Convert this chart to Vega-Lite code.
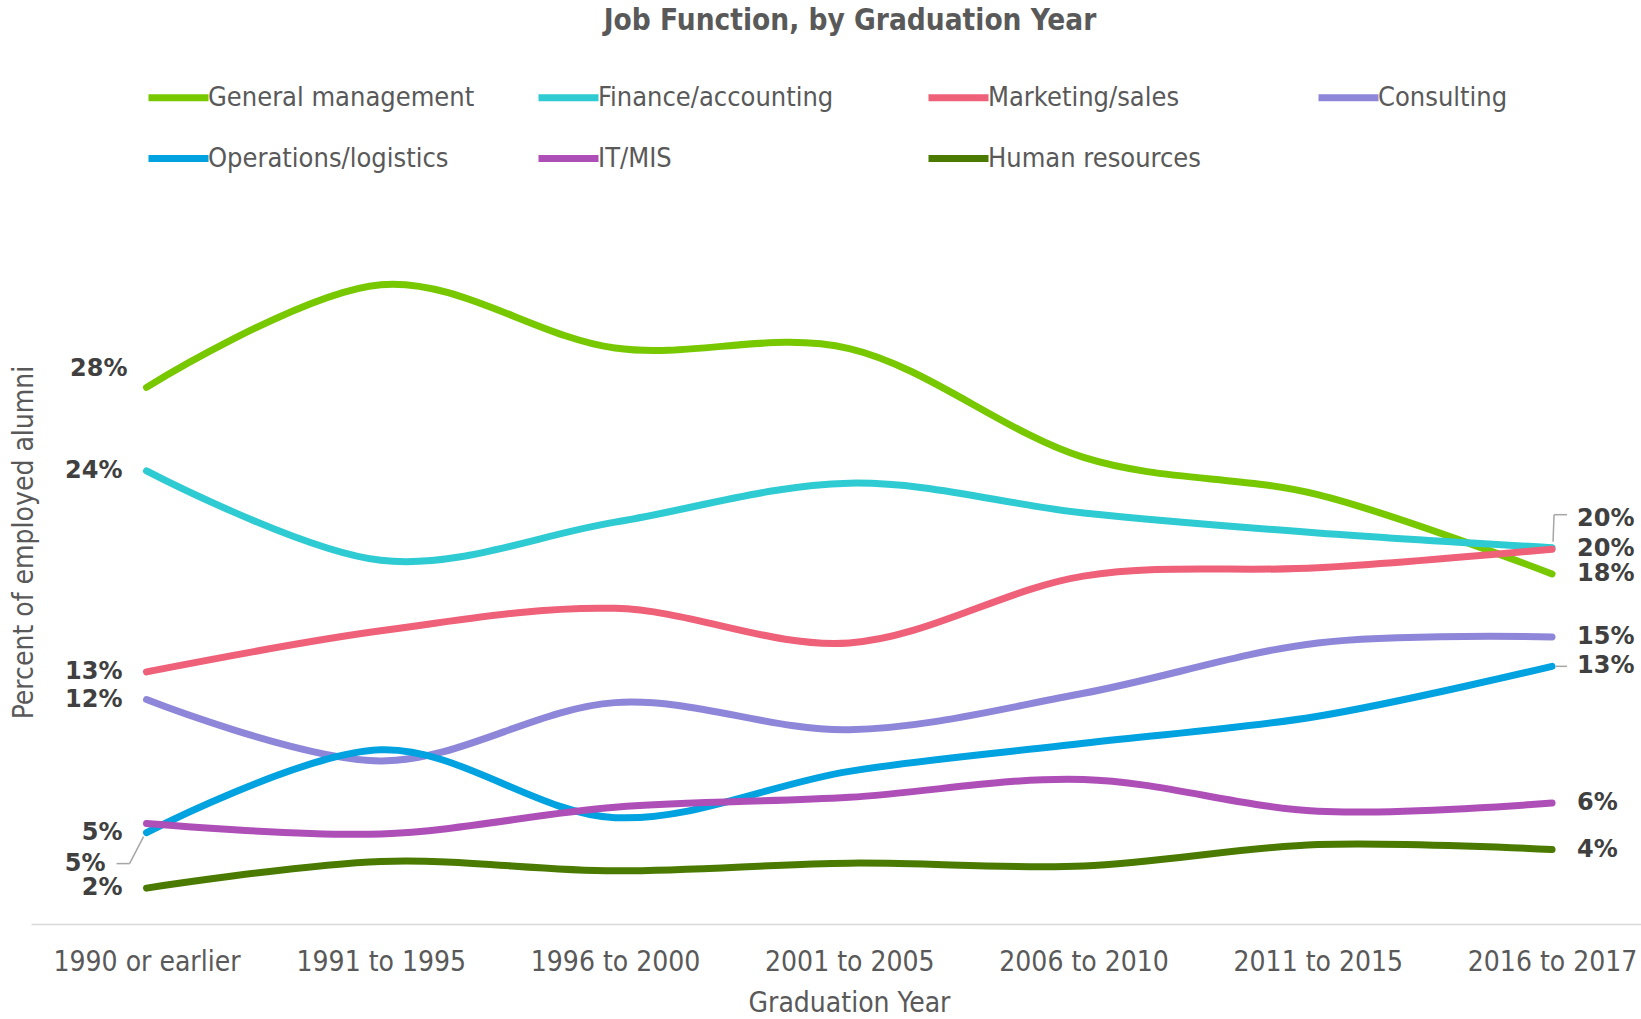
{
  "$schema": "https://vega.github.io/schema/vega-lite/v6.json",
  "width": 1610,
  "height": 672,
  "autosize": {"type": "none"},
  "padding": {"left": 31, "top": 252, "right": 0, "bottom": 95},
  "background": "white",
  "title": {
    "text": "Job Function, by Graduation Year",
    "font": "DejaVu Sans Condensed",
    "fontWeight": "bold",
    "fontSize": 29.5,
    "color": "#595959",
    "anchor": "middle",
    "dx": 14,
    "offset": 28
  },
  "config": {
    "view": {"stroke": null},
    "font": "DejaVu Sans Condensed"
  },
  "data": {
    "values": [
      {"year": "1990 or earlier", "func": "General management", "pct": 0.2795},
      {"year": "1991 to 1995", "func": "General management", "pct": 0.333},
      {"year": "1996 to 2000", "func": "General management", "pct": 0.300},
      {"year": "2001 to 2005", "func": "General management", "pct": 0.2997},
      {"year": "2006 to 2010", "func": "General management", "pct": 0.243},
      {"year": "2011 to 2015", "func": "General management", "pct": 0.2236},
      {"year": "2016 to 2017", "func": "General management", "pct": 0.1823},
      {"year": "1990 or earlier", "func": "Finance/accounting", "pct": 0.236},
      {"year": "1991 to 1995", "func": "Finance/accounting", "pct": 0.1894},
      {"year": "1996 to 2000", "func": "Finance/accounting", "pct": 0.2093},
      {"year": "2001 to 2005", "func": "Finance/accounting", "pct": 0.2296},
      {"year": "2006 to 2010", "func": "Finance/accounting", "pct": 0.2141},
      {"year": "2011 to 2015", "func": "Finance/accounting", "pct": 0.2037},
      {"year": "2016 to 2017", "func": "Finance/accounting", "pct": 0.1960},
      {"year": "1990 or earlier", "func": "Marketing/sales", "pct": 0.1313},
      {"year": "1991 to 1995", "func": "Marketing/sales", "pct": 0.1527},
      {"year": "1996 to 2000", "func": "Marketing/sales", "pct": 0.1644},
      {"year": "2001 to 2005", "func": "Marketing/sales", "pct": 0.1464},
      {"year": "2006 to 2010", "func": "Marketing/sales", "pct": 0.1812},
      {"year": "2011 to 2015", "func": "Marketing/sales", "pct": 0.1855},
      {"year": "2016 to 2017", "func": "Marketing/sales", "pct": 0.1952},
      {"year": "1990 or earlier", "func": "Consulting", "pct": 0.1169},
      {"year": "1991 to 1995", "func": "Consulting", "pct": 0.0849},
      {"year": "1996 to 2000", "func": "Consulting", "pct": 0.1153},
      {"year": "2001 to 2005", "func": "Consulting", "pct": 0.1012},
      {"year": "2006 to 2010", "func": "Consulting", "pct": 0.1202},
      {"year": "2011 to 2015", "func": "Consulting", "pct": 0.1464},
      {"year": "2016 to 2017", "func": "Consulting", "pct": 0.1495},
      {"year": "1990 or earlier", "func": "Operations/logistics", "pct": 0.0476},
      {"year": "1991 to 1995", "func": "Operations/logistics", "pct": 0.0907},
      {"year": "1996 to 2000", "func": "Operations/logistics", "pct": 0.0554},
      {"year": "2001 to 2005", "func": "Operations/logistics", "pct": 0.0795},
      {"year": "2006 to 2010", "func": "Operations/logistics", "pct": 0.0941},
      {"year": "2011 to 2015", "func": "Operations/logistics", "pct": 0.1082},
      {"year": "2016 to 2017", "func": "Operations/logistics", "pct": 0.1342},
      {"year": "1990 or earlier", "func": "IT/MIS", "pct": 0.0523},
      {"year": "1991 to 1995", "func": "IT/MIS", "pct": 0.0469},
      {"year": "1996 to 2000", "func": "IT/MIS", "pct": 0.0608},
      {"year": "2001 to 2005", "func": "IT/MIS", "pct": 0.066},
      {"year": "2006 to 2010", "func": "IT/MIS", "pct": 0.0753},
      {"year": "2011 to 2015", "func": "IT/MIS", "pct": 0.0587},
      {"year": "2016 to 2017", "func": "IT/MIS", "pct": 0.063},
      {"year": "1990 or earlier", "func": "Human resources", "pct": 0.0187},
      {"year": "1991 to 1995", "func": "Human resources", "pct": 0.0326},
      {"year": "1996 to 2000", "func": "Human resources", "pct": 0.0277},
      {"year": "2001 to 2005", "func": "Human resources", "pct": 0.0317},
      {"year": "2006 to 2010", "func": "Human resources", "pct": 0.0302},
      {"year": "2011 to 2015", "func": "Human resources", "pct": 0.0414},
      {"year": "2016 to 2017", "func": "Human resources", "pct": 0.0388}
    ]
  },
  "encoding": {
    "x": {
      "field": "year",
      "type": "ordinal",
      "sort": ["1990 or earlier", "1991 to 1995", "1996 to 2000", "2001 to 2005", "2006 to 2010", "2011 to 2015", "2016 to 2017"],
      "scale": {"type": "point", "padding": 0.4365, "align": 0.565},
      "axis": {
        "title": "Graduation Year",
        "titleFont": "DejaVu Sans Condensed",
        "titleFontSize": 28,
        "titleFontWeight": "normal",
        "titleColor": "#595959",
        "titlePadding": 13,
        "titleX": 818,
        "labelFont": "DejaVu Sans Condensed",
        "labelFontSize": 28,
        "labelColor": "#595959",
        "labelAngle": 0,
        "labelPadding": 24,
        "labelLimit": 400,
        "ticks": false,
        "grid": false,
        "domainColor": "#d9d9d9",
        "domainWidth": 1.5
      }
    },
    "y": {
      "field": "pct",
      "type": "quantitative",
      "scale": {"domain": [0, 0.35]},
      "axis": {
        "title": "Percent of employed alumni",
        "titleFont": "DejaVu Sans Condensed",
        "titleFontSize": 28,
        "titleFontWeight": "normal",
        "titleColor": "#595959",
        "titleX": 7,
        "titleY": 290,
        "titleAngle": -90,
        "titleAlign": "center",
        "titleBaseline": "bottom",
        "labels": false,
        "ticks": false,
        "domain": false,
        "grid": false
      }
    }
  },
  "layer": [
    {
      "mark": {"type": "line", "interpolate": "cardinal", "strokeWidth": 7, "strokeCap": "round", "strokeJoin": "round"},
      "encoding": {
        "color": {
          "field": "func",
          "type": "nominal",
          "scale": {
            "domain": ["General management", "Finance/accounting", "Marketing/sales", "Consulting", "Operations/logistics", "IT/MIS", "Human resources"],
            "range": ["#78C800", "#2ECBD3", "#EF6079", "#8E86D8", "#00A2E0", "#AE4FB8", "#4A7A00"]
          },
          "legend": {
            "title": null,
            "orient": "none",
            "legendX": 114,
            "legendY": -188,
            "direction": "horizontal",
            "columns": 4,
            "gridAlign": "all",
            "symbolType": "stroke",
            "symbolStrokeWidth": 7,
            "symbolSize": 3600,
            "labelFont": "DejaVu Sans Condensed",
            "labelFontSize": 27,
            "labelColor": "#595959",
            "labelLimit": 500,
            "labelOffset": -4,
            "columnPadding": 49,
            "rowPadding": 13
          }
        }
      }
    },
    {
      "transform": [{"filter": "datum.year == '2016 to 2017' && datum.func == 'Finance/accounting'"}],
      "mark": {"type": "rule", "color": "#a6a6a6", "strokeWidth": 1.5, "xOffset": 1, "yOffset": -6, "x2Offset": 2, "y2Offset": -33},
      "encoding": {"x2": {"field": "year"}, "y2": {"field": "pct"}}
    },
    {
      "transform": [{"filter": "datum.year == '2016 to 2017' && datum.func == 'Finance/accounting'"}],
      "mark": {"type": "rule", "color": "#a6a6a6", "strokeWidth": 1.5, "xOffset": 2, "yOffset": -33, "x2Offset": 15, "y2Offset": -33},
      "encoding": {"x2": {"field": "year"}, "y2": {"field": "pct"}}
    },
    {
      "transform": [{"filter": "datum.year == '2016 to 2017' && datum.func == 'Operations/logistics'"}],
      "mark": {"type": "rule", "color": "#a6a6a6", "strokeWidth": 1.5, "xOffset": 4, "yOffset": 0, "x2Offset": 15, "y2Offset": 0},
      "encoding": {"x2": {"field": "year"}, "y2": {"field": "pct"}}
    },
    {
      "transform": [{"filter": "datum.year == '1990 or earlier' && datum.func == 'Operations/logistics'"}],
      "mark": {"type": "rule", "color": "#a6a6a6", "strokeWidth": 1.5, "xOffset": -3, "yOffset": 4, "x2Offset": -17, "y2Offset": 31},
      "encoding": {"x2": {"field": "year"}, "y2": {"field": "pct"}}
    },
    {
      "transform": [{"filter": "datum.year == '1990 or earlier' && datum.func == 'Operations/logistics'"}],
      "mark": {"type": "rule", "color": "#a6a6a6", "strokeWidth": 1.5, "xOffset": -17, "yOffset": 31, "x2Offset": -30, "y2Offset": 31},
      "encoding": {"x2": {"field": "year"}, "y2": {"field": "pct"}}
    },
    {
      "transform": [{"filter": "datum.year == '1990 or earlier' && datum.func != 'General management' && datum.func != 'Operations/logistics' && datum.func != 'IT/MIS'"}],
      "mark": {"type": "text", "align": "right", "baseline": "middle", "dx": -24, "font": "DejaVu Sans", "fontWeight": "bold", "fontSize": 24, "color": "#404040"},
      "encoding": {"text": {"field": "pct", "type": "quantitative", "format": ".0%"}}
    },
    {
      "transform": [{"filter": "datum.year == '1990 or earlier' && datum.func == 'General management'"}],
      "mark": {"type": "text", "align": "right", "baseline": "middle", "dx": -19, "dy": -18, "font": "DejaVu Sans", "fontWeight": "bold", "fontSize": 24, "color": "#404040"},
      "encoding": {"text": {"field": "pct", "type": "quantitative", "format": ".0%"}}
    },
    {
      "transform": [{"filter": "datum.year == '1990 or earlier' && datum.func == 'IT/MIS'"}],
      "mark": {"type": "text", "align": "right", "baseline": "middle", "dx": -24, "dy": 9, "font": "DejaVu Sans", "fontWeight": "bold", "fontSize": 24, "color": "#404040"},
      "encoding": {"text": {"field": "pct", "type": "quantitative", "format": ".0%"}}
    },
    {
      "transform": [{"filter": "datum.year == '1990 or earlier' && datum.func == 'Operations/logistics'"}],
      "mark": {"type": "text", "align": "right", "baseline": "middle", "dx": -41, "dy": 31, "font": "DejaVu Sans", "fontWeight": "bold", "fontSize": 24, "color": "#404040"},
      "encoding": {"text": {"field": "pct", "type": "quantitative", "format": ".0%"}}
    },
    {
      "transform": [{"filter": "datum.year == '2016 to 2017' && datum.func != 'Finance/accounting'"}],
      "mark": {"type": "text", "align": "left", "baseline": "middle", "dx": 25, "font": "DejaVu Sans", "fontWeight": "bold", "fontSize": 24, "color": "#404040"},
      "encoding": {"text": {"field": "pct", "type": "quantitative", "format": ".0%"}}
    },
    {
      "transform": [{"filter": "datum.year == '2016 to 2017' && datum.func == 'Finance/accounting'"}],
      "mark": {"type": "text", "align": "left", "baseline": "middle", "dx": 25, "dy": -29, "font": "DejaVu Sans", "fontWeight": "bold", "fontSize": 24, "color": "#404040"},
      "encoding": {"text": {"field": "pct", "type": "quantitative", "format": ".0%"}}
    }
  ]
}
